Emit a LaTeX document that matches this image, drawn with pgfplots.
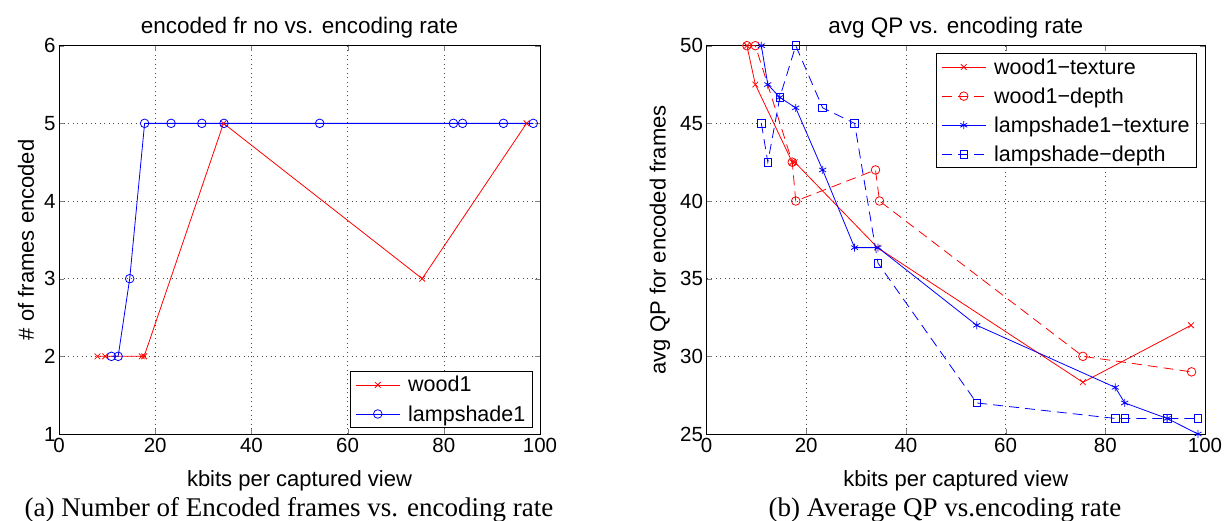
\documentclass[border=0pt]{standalone}
\usepackage{pgfplots}
\pgfplotsset{compat=1.18}
\usepackage{fontspec}
\setmainfont{Liberation Sans}
\newfontfamily\capfont{Liberation Serif}
\definecolor{mred}{rgb}{1,0,0}
\definecolor{mblue}{rgb}{0,0,1}
\newcommand\tf{\fontsize{22.5}{26}\selectfont}
\newcommand\lf{\fontsize{21.5}{25}\selectfont}
\newcommand\cf{\capfont\fontsize{27}{30}\selectfont}
\pgfplotsset{
  mstyle/.style={
    scale only axis,
    xmin=0, xmax=100,
    xtick={0,20,...,100},
    tick align=inside,
    major tick length=5pt,
    xtick pos=both, ytick pos=both,
    axis line style={line width=0.9pt},
    grid=major,
    major grid style={black!70, line width=0.6pt, dash pattern=on 1pt off 3.5pt},
    /pgf/number format/assume math mode=true,
    tick label style={font=\fontsize{20.5}{24}\selectfont},
    xticklabel style={yshift=-1pt},
    label style={font=\fontsize{22}{25}\selectfont},
    xlabel style={yshift=-11pt},
    ylabel style={yshift=3pt},
    title style={yshift=-2pt},
    legend style={draw=black, line width=0.9pt, fill=white, inner xsep=5pt, inner ysep=3pt, row sep=8pt,
      /tikz/every odd column/.append style={column sep=6pt}},
    legend cell align=left,
    legend image code/.code={\draw[mark repeat=2,mark phase=2,#1] plot coordinates {(0pt,0pt) (22pt,0pt) (44pt,0pt)};},
    every axis plot/.append style={line width=0.8pt},
  }
}
\begin{document}
\begin{tikzpicture}
\path[use as bounding box] (0pt,0pt) rectangle (1225pt,521pt);
\begin{axis}[mstyle,
  at={(59pt,87pt)}, anchor=south west,
  width=481pt, height=388.3pt,
  ymin=1, ymax=6, ytick={1,2,...,6},
  title={\tf encoded fr no vs. encoding rate},
  xlabel={kbits per captured view},
  ylabel={\# of frames encoded},
  legend style={at={(0.985,0.0155)}, anchor=south east},
]
\addplot[color=mred, mark=x, mark size=4pt] coordinates {
(8.0,2) (9.6,2) (17.2,2) (17.7,2) (34.2,5) (75.5,3) (97.2,5)};
\addlegendentry{\lf wood1}
\addplot[color=mblue, mark=o, mark size=4.3pt] coordinates {
(10.9,2) (12.3,2) (14.7,3) (17.8,5) (23.3,5) (29.7,5) (34.3,5) (54.2,5) (82.0,5) (83.9,5) (92.4,5) (98.6,5)};
\addlegendentry{\lf lampshade1}
\end{axis}
\begin{axis}[mstyle,
  at={(706.5pt,87pt)}, anchor=south west,
  width=498.5pt, height=388.3pt,
  ymin=25, ymax=50, ytick={25,30,...,50},
  title={\tf avg QP vs. encoding rate},
  xlabel={kbits per captured view},
  ylabel={avg QP for encoded frames},
  legend style={at={(0.984,0.981)}, anchor=north east},
]
\addplot[color=mred, mark=x, mark size=4pt] coordinates {
(8.1,50) (9.8,47.5) (17.2,42.5) (17.7,42.5) (34.3,37) (75.5,28.33) (97.2,32)};
\addlegendentry{\lf wood1−texture}
\addplot[color=mred, mark=o, mark size=4.3pt, dash pattern=on 10pt off 6pt, mark options={solid}] coordinates {
(8.1,50) (9.8,50) (17.2,42.5) (17.9,40) (33.9,42) (34.7,40) (75.5,30) (97.3,29)};
\addlegendentry{\lf wood1−depth}
\addplot[color=mblue, mark=asterisk, mark size=4pt] coordinates {
(11.0,50) (12.3,47.5) (14.7,46.67) (17.9,46) (23.3,42) (29.7,37) (34.4,37) (54.2,32) (82.0,28) (83.9,27) (92.4,26) (98.6,25)};
\addlegendentry{\lf lampshade1−texture}
\addplot[color=mblue, mark=square, mark size=3.8pt, dash pattern=on 10pt off 6pt, mark options={solid}] coordinates {
(11.0,45) (12.3,42.5) (14.7,46.67) (17.9,50) (23.3,46) (29.7,45) (34.4,36) (54.2,27) (82.0,26) (83.9,26) (92.4,26) (98.6,26)};
\addlegendentry{\lf lampshade−depth}
\end{axis}
\node[anchor=base] at (289pt,4pt) {\cf (a) Number of Encoded frames vs. encoding rate};
\node[anchor=base] at (945pt,4pt) {\cf (b) Average QP vs.encoding rate};
\end{tikzpicture}
\end{document}
